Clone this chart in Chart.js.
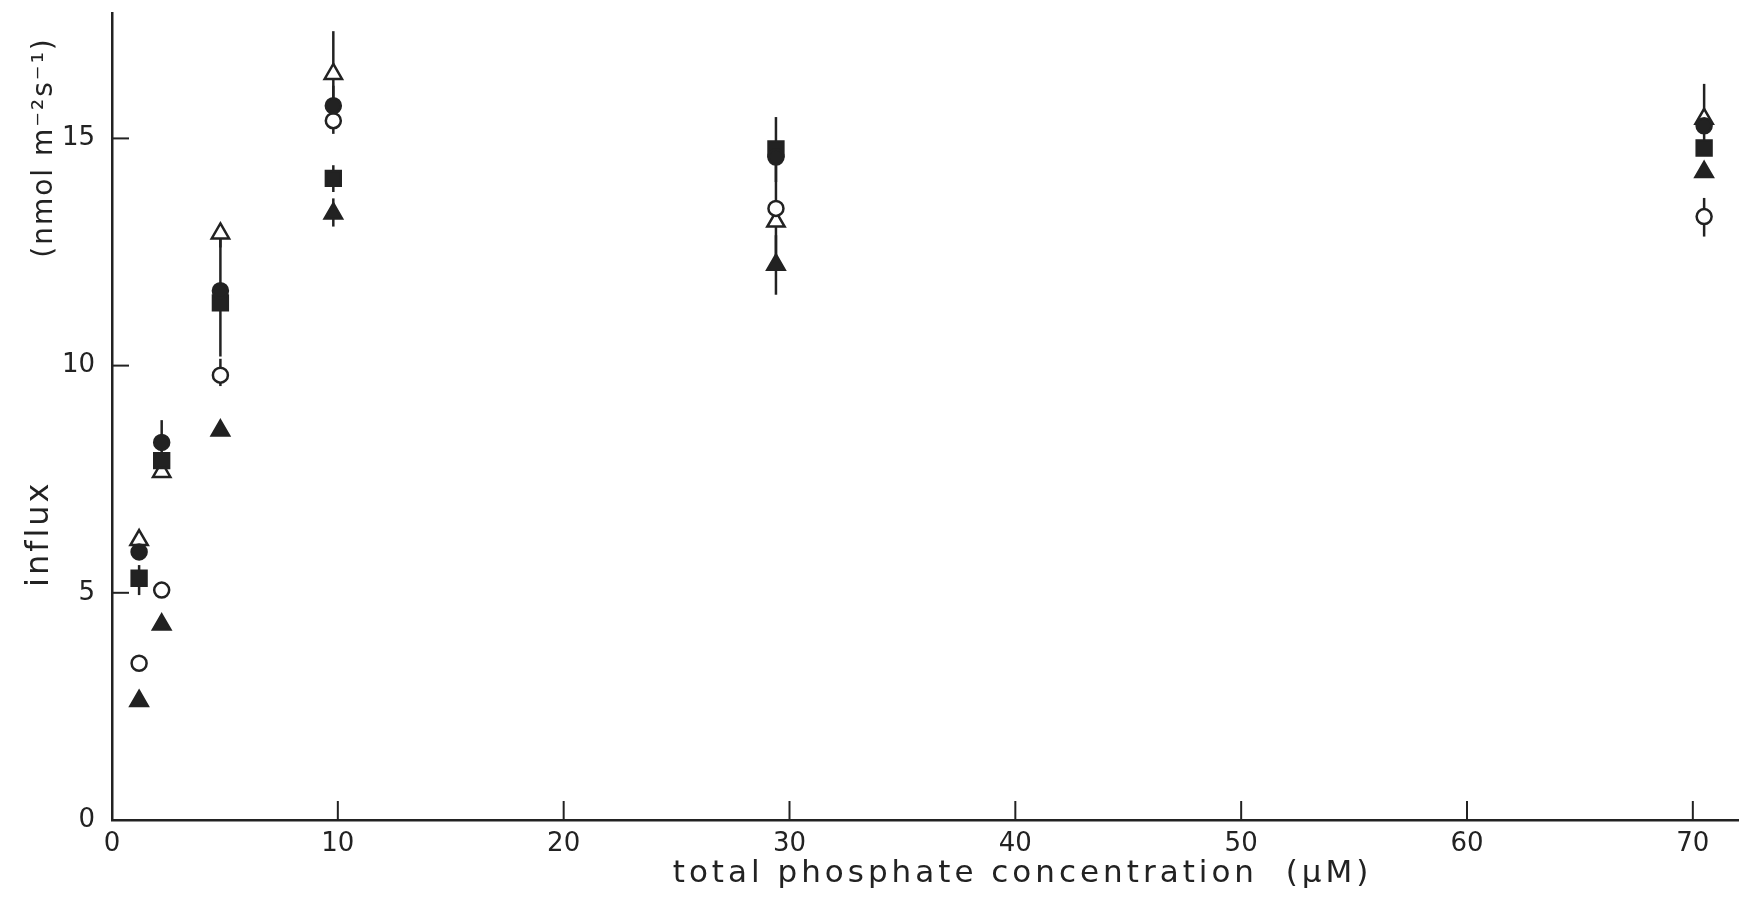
<!DOCTYPE html>
<html>
<head>
<meta charset="utf-8">
<script src="https://cdn.jsdelivr.net/npm/chart.js@4/dist/chart.umd.min.js"></script>
<style>
  html, body { margin: 0; padding: 0; background: #fff; }
  canvas { display: block; }
</style>
</head>
<body>
<canvas id="influxChart" width="1751" height="904"></canvas>
<script>
// concentrations as plotted (uM)
const concentrations = [1.2, 2.2, 4.8, 9.8, 29.4, 70.5];

// influx values (nmol m-2 s-1) per symbol
const filledCircle   = [5.90, 8.31, 11.65, 15.72, 14.59, 15.28];
const openCircle     = [3.45, 5.06, 9.79, 15.39, 13.46, 13.28];
const filledSquare   = [5.32, 7.91, 11.38, 14.12, 14.77, 14.79];
const filledTriangle = [2.62, 4.30, 8.57, 13.35, 12.22, 14.26];
const openTriangle   = [6.16, 7.66, 12.91, 16.42, 13.17, 15.43];

// error bar ranges [low, high], null where none drawn
const filledCircleErr   = [null, [7.90, 8.80], [10.20, 12.90], [15.40, 16.16], null, [14.70, 15.30]];
const openCircleErr     = [null, null, [9.55, 10.15], [15.10, 15.70], [13.20, 14.59], [12.84, 13.69]];
const filledSquareErr   = [[4.95, 5.61], null, null, [13.82, 14.41], [14.04, 15.47], null];
const filledTriangleErr = [null, null, null, [13.06, 13.68], [11.56, 12.87], null];
const openTriangleErr   = [null, null, [12.60, 13.00], [15.50, 17.36], [12.40, 13.20], [15.43, 16.20]];

const xTicks = [0, 10, 20, 30, 40, 50, 60, 70];
const yTicks = [0, 5, 10, 15];

const ink = '#222';

function toPoints(ys) {
    return concentrations.map((x, i) => ({ x: x, y: ys[i] }));
}

function series(label, ys, errs, style, filled, radius) {
    return {
        label: label,
        data: toPoints(ys),
        errors: errs,
        pointStyle: style,
        pointRadius: radius,
        pointHoverRadius: radius,
        backgroundColor: filled ? ink : '#fff',
        borderColor: ink,
        borderWidth: 2.5,
        showLine: false
    };
}

// vertical error bars, drawn under the symbols
const errorBars = {
    id: 'errorBars',
    beforeDatasetsDraw(chart) {
        const ctx = chart.ctx;
        const xs = chart.scales.x, ys = chart.scales.y;
        ctx.save();
        ctx.strokeStyle = ink;
        ctx.lineWidth = 2.5;
        chart.data.datasets.forEach(ds => {
            ds.data.forEach((p, i) => {
                const e = ds.errors[i];
                if (!e) return;
                const px = xs.getPixelForValue(p.x);
                ctx.beginPath();
                ctx.moveTo(px, ys.getPixelForValue(e[0]));
                ctx.lineTo(px, ys.getPixelForValue(e[1]));
                ctx.stroke();
            });
        });
        ctx.restore();
    }
};

// tick marks point into the plot, plus axis titles
const axisDecor = {
    id: 'axisDecor',
    afterDraw(chart) {
        const ctx = chart.ctx;
        const xs = chart.scales.x, ys = chart.scales.y;
        const area = chart.chartArea;
        ctx.save();
        ctx.strokeStyle = ink;
        ctx.lineWidth = 2;
        xTicks.forEach(v => {
            if (v === 0) return;
            const px = xs.getPixelForValue(v);
            ctx.beginPath();
            ctx.moveTo(px, area.bottom);
            ctx.lineTo(px, area.bottom - 19);
            ctx.stroke();
        });
        yTicks.forEach(v => {
            if (v === 0) return;
            const py = ys.getPixelForValue(v);
            ctx.beginPath();
            ctx.moveTo(area.left, py);
            ctx.lineTo(area.left + 17, py);
            ctx.stroke();
        });

        ctx.fillStyle = ink;
        ctx.textBaseline = 'middle';
        ctx.textAlign = 'center';
        ctx.font = '31px "DejaVu Sans"';
        ctx.letterSpacing = '4px';
        ctx.fillText('total phosphate concentration  (\u00B5M)', area.left + (area.right - area.left) * 0.56, area.bottom + 54);

        ctx.translate(area.left - 72, area.top);
        ctx.rotate(-Math.PI / 2);
        ctx.font = '32px "DejaVu Sans"';
        ctx.letterSpacing = '3px';
        ctx.fillText('influx', -(ys.getPixelForValue(6.3) - area.top), 0);
        ctx.font = '28px "DejaVu Sans"';
        ctx.letterSpacing = '2px';
        ctx.fillText('(nmol m\u207B\u00B2s\u207B\u00B9)', -(ys.getPixelForValue(14.8) - area.top), 5);
        ctx.restore();
    }
};

const ctx = document.getElementById('influxChart').getContext('2d');

const influxChart = new Chart(ctx, {
    type: 'scatter',
    data: {
        datasets: [
            series('filled circle', filledCircle, filledCircleErr, 'circle', true, 7.5),
            series('open circle', openCircle, openCircleErr, 'circle', false, 7.5),
            series('filled square', filledSquare, filledSquareErr, 'rect', true, 10.5),
            series('filled triangle', filledTriangle, filledTriangleErr, 'triangle', true, 10),
            series('open triangle', openTriangle, openTriangleErr, 'triangle', false, 10)
        ]
    },
    options: {
        responsive: false,
        animation: false,
        layout: { padding: { top: 8, right: 8, left: 0, bottom: 0 } },
        plugins: {
            legend: { display: false },
            tooltip: { enabled: false }
        },
        scales: {
            x: {
                type: 'linear',
                min: 0,
                max: 72,
                afterFit(scale) {
                    scale.height = 84;
                    scale.paddingLeft = 0;
                    scale.paddingRight = 0;
                },
                afterBuildTicks(scale) { scale.ticks = xTicks.map(v => ({ value: v })); },
                grid: { display: false },
                border: { display: true, color: ink, width: 2.5 },
                ticks: {
                    color: ink,
                    padding: 1,
                    font: { family: 'DejaVu Sans', size: 26 }
                }
            },
            y: {
                type: 'linear',
                min: 0,
                max: 17.76,
                afterFit(scale) {
                    scale.width = 112;
                    scale.paddingTop = 0;
                    scale.paddingBottom = 0;
                },
                afterBuildTicks(scale) { scale.ticks = yTicks.map(v => ({ value: v })); },
                grid: { display: false },
                border: { display: true, color: ink, width: 2.5 },
                ticks: {
                    color: ink,
                    padding: 9,
                    font: { family: 'DejaVu Sans', size: 26 }
                }
            }
        }
    },
    plugins: [errorBars, axisDecor]
});
</script>
</body>
</html>
